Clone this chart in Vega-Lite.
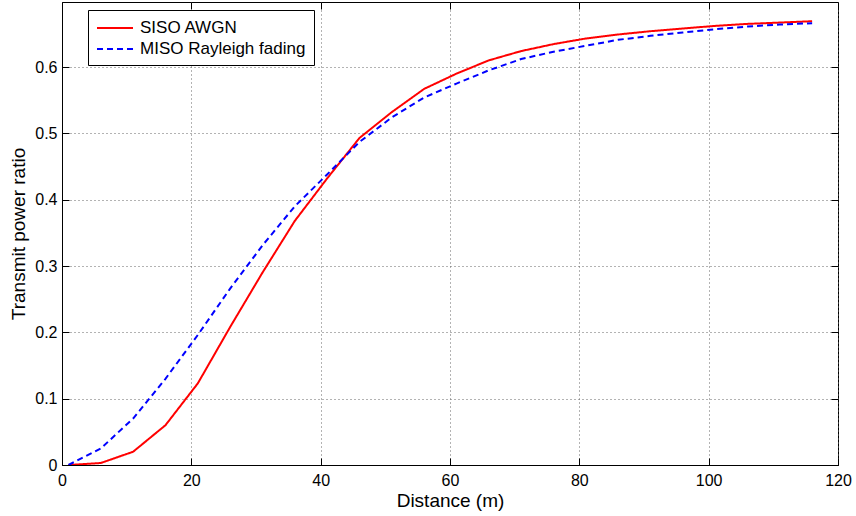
{
  "$schema": "https://vega.github.io/schema/vega-lite/v6.json",
  "autosize": "none",
  "width": 776,
  "height": 463,
  "padding": {"left": 62, "top": 2, "right": 18, "bottom": 51},
  "background": "white",
  "config": {
    "font": "Liberation Sans",
    "view": {"stroke": "black", "strokeWidth": 1},
    "axis": {
      "labelFont": "Liberation Sans",
      "titleFont": "Liberation Sans",
      "labelFontSize": 16,
      "titleFontSize": 19,
      "labelColor": "black",
      "titleColor": "black",
      "titleFontWeight": "normal",
      "domainColor": "black",
      "tickColor": "black",
      "tickSize": -7,
      "tickWidth": 1,
      "labelFlush": false,
      "gridColor": "#666666",
      "gridDash": [1, 3],
      "gridOpacity": 1,
      "gridWidth": 1
    }
  },
  "datasets": {
    "curves": [
      {"d": 1, "r": 0.0, "series": "SISO AWGN"},
      {"d": 6, "r": 0.003, "series": "SISO AWGN"},
      {"d": 11, "r": 0.02, "series": "SISO AWGN"},
      {"d": 16, "r": 0.06, "series": "SISO AWGN"},
      {"d": 21, "r": 0.123, "series": "SISO AWGN"},
      {"d": 26, "r": 0.208, "series": "SISO AWGN"},
      {"d": 31, "r": 0.29, "series": "SISO AWGN"},
      {"d": 36, "r": 0.368, "series": "SISO AWGN"},
      {"d": 41, "r": 0.432, "series": "SISO AWGN"},
      {"d": 46, "r": 0.493, "series": "SISO AWGN"},
      {"d": 51, "r": 0.532, "series": "SISO AWGN"},
      {"d": 56, "r": 0.567, "series": "SISO AWGN"},
      {"d": 61, "r": 0.59, "series": "SISO AWGN"},
      {"d": 66, "r": 0.61, "series": "SISO AWGN"},
      {"d": 71, "r": 0.624, "series": "SISO AWGN"},
      {"d": 76, "r": 0.6345, "series": "SISO AWGN"},
      {"d": 81, "r": 0.643, "series": "SISO AWGN"},
      {"d": 86, "r": 0.649, "series": "SISO AWGN"},
      {"d": 91, "r": 0.654, "series": "SISO AWGN"},
      {"d": 96, "r": 0.658, "series": "SISO AWGN"},
      {"d": 101, "r": 0.662, "series": "SISO AWGN"},
      {"d": 106, "r": 0.665, "series": "SISO AWGN"},
      {"d": 111, "r": 0.667, "series": "SISO AWGN"},
      {"d": 116, "r": 0.669, "series": "SISO AWGN"},
      {"d": 1, "r": 0.0, "series": "MISO Rayleigh fading"},
      {"d": 6, "r": 0.025, "series": "MISO Rayleigh fading"},
      {"d": 11, "r": 0.07, "series": "MISO Rayleigh fading"},
      {"d": 16, "r": 0.13, "series": "MISO Rayleigh fading"},
      {"d": 21, "r": 0.196, "series": "MISO Rayleigh fading"},
      {"d": 26, "r": 0.266, "series": "MISO Rayleigh fading"},
      {"d": 31, "r": 0.331, "series": "MISO Rayleigh fading"},
      {"d": 36, "r": 0.39, "series": "MISO Rayleigh fading"},
      {"d": 41, "r": 0.438, "series": "MISO Rayleigh fading"},
      {"d": 46, "r": 0.487, "series": "MISO Rayleigh fading"},
      {"d": 51, "r": 0.524, "series": "MISO Rayleigh fading"},
      {"d": 56, "r": 0.554, "series": "MISO Rayleigh fading"},
      {"d": 61, "r": 0.575, "series": "MISO Rayleigh fading"},
      {"d": 66, "r": 0.595, "series": "MISO Rayleigh fading"},
      {"d": 71, "r": 0.612, "series": "MISO Rayleigh fading"},
      {"d": 76, "r": 0.623, "series": "MISO Rayleigh fading"},
      {"d": 81, "r": 0.632, "series": "MISO Rayleigh fading"},
      {"d": 86, "r": 0.641, "series": "MISO Rayleigh fading"},
      {"d": 91, "r": 0.647, "series": "MISO Rayleigh fading"},
      {"d": 96, "r": 0.652, "series": "MISO Rayleigh fading"},
      {"d": 101, "r": 0.657, "series": "MISO Rayleigh fading"},
      {"d": 106, "r": 0.661, "series": "MISO Rayleigh fading"},
      {"d": 111, "r": 0.664, "series": "MISO Rayleigh fading"},
      {"d": 116, "r": 0.666, "series": "MISO Rayleigh fading"}
    ]
  },
  "data": {"name": "curves"},
  "layer": [
    {
      "mark": {"type": "line", "strokeWidth": 2, "clip": true},
      "encoding": {
        "x": {
          "field": "d", "type": "quantitative",
          "scale": {"domain": [0, 120], "nice": false, "zero": false},
          "axis": {"title": "Distance (m)", "values": [0, 20, 40, 60, 80, 100, 120], "labelPadding": 14, "titlePadding": 3, "format": "d"}
        },
        "y": {
          "field": "r", "type": "quantitative",
          "scale": {"domain": [0, 0.698], "nice": false, "zero": false},
          "axis": {"title": "Transmit power ratio", "values": [0, 0.1, 0.2, 0.3, 0.4, 0.5, 0.6], "labelPadding": 12, "titlePadding": 6, "format": "~g"}
        },
        "color": {
          "field": "series", "type": "nominal",
          "scale": {"domain": ["SISO AWGN", "MISO Rayleigh fading"], "range": ["#ff0000", "#0000ff"]},
          "legend": {
            "title": null,
            "orient": "none",
            "legendX": 26,
            "legendY": 8,
            "symbolType": "M-1,0H3",
            "symbolSize": 324,
            "symbolStrokeWidth": 2,
            "symbolFillColor": "transparent",
            "labelOffset": 24,
            "labelFontSize": 17,
            "labelLimit": 400,
            "labelColor": "black",
            "labelFont": "Liberation Sans",
            "strokeColor": "black",
            "fillColor": "white",
            "padding": 8,
            "rowPadding": 3
          }
        },
        "strokeDash": {
          "field": "series", "type": "nominal",
          "scale": {"domain": ["SISO AWGN", "MISO Rayleigh fading"], "range": [[1, 0], [6, 4]]},
          "legend": null
        }
      }
    },
    {
      "mark": {"type": "point", "opacity": 0},
      "encoding": {
        "x": {
          "field": "d", "type": "quantitative",
          "scale": {"domain": [0, 120], "nice": false, "zero": false},
          "axis": {"orient": "top", "title": null, "labels": false, "grid": false, "domain": false, "values": [0, 20, 40, 60, 80, 100, 120]}
        },
        "y": {
          "field": "r", "type": "quantitative",
          "scale": {"domain": [0, 0.698], "nice": false, "zero": false},
          "axis": {"orient": "right", "title": null, "labels": false, "grid": false, "domain": false, "values": [0, 0.1, 0.2, 0.3, 0.4, 0.5, 0.6]}
        }
      }
    }
  ],
  "resolve": {"axis": {"x": "independent", "y": "independent"}}
}
